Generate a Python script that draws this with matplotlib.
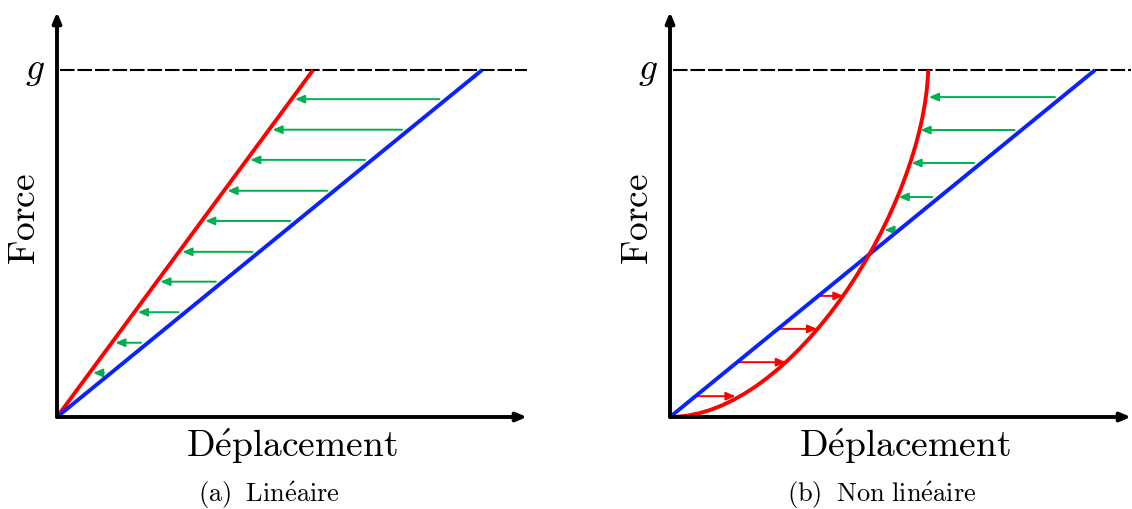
import numpy as np
import matplotlib
matplotlib.use('Agg')
import matplotlib.pyplot as plt
from matplotlib.path import Path
from matplotlib.patches import PathPatch

plt.rcParams['mathtext.fontset'] = 'cm'

####################################################
# Data (force normalised so that g = 1)
####################################################
g = 1.0
k_secant = 1.0 / 1.225          # blue line, both panels
k_lin = 1.0 / 0.738             # red line, panel (a)

# panel (a) arrow levels
levels_a = [0.127, 0.214, 0.302, 0.390, 0.476, 0.565, 0.652, 0.741, 0.828, 0.916]

# panel (b) non linear curve (cubic bezier control points)
curve_b = [(0.0, 0.0), (0.355, 0.0), (0.732, 0.605), (0.744, 1.0)]
# green arrows (above crossing) : level, displacement of the curve
levels_b_green = [0.539, 0.634, 0.732, 0.827, 0.922]
curve_x_green = [0.618, 0.659, 0.696, 0.722, 0.746]
# red arrows (below crossing)
levels_b_red = [0.060, 0.158, 0.254, 0.349]
curve_x_red = [0.189, 0.334, 0.424, 0.500]

RED = '#ff0000'
BLUE = '#0a22ff'
GREEN = '#00b050'

W, H = 1132, 509
PX = 347.0   # pixels per unit of force

fig = plt.figure(figsize=(W / 100, H / 100), dpi=100)


def make_axes(x0, xend):
    ax = fig.add_axes([x0 / W, (H - 417) / H, (xend - x0) / W, 405 / H])
    ax.set_xlim(0, (xend - x0) / PX)
    ax.set_ylim(0, 405 / PX)
    ax.axis('off')
    xmax = (xend - x0) / PX
    ymax = 405 / PX
    # axes with arrows
    for tip in [(xmax, 0), (0, ymax)]:
        ax.annotate('', xy=tip, xytext=(0, 0),
                    arrowprops=dict(arrowstyle='-|>,head_length=0.6,head_width=0.25',
                                    lw=2.8, color='k', mutation_scale=10,
                                    shrinkA=0, shrinkB=0), zorder=6)
    # g level
    ax.plot([0.009, xmax], [g, g], color='k', lw=1.5, dashes=(7, 1.4), zorder=1)
    ax.text(-0.063, g, r'$g$', fontsize=27, ha='center', va='center')
    ax.text(-0.092, 0.57, r'$\mathrm{Force}$', fontsize=27, rotation=90,
            ha='center', va='center')
    ax.text(0.676, -0.115, r'$\mathrm{D\acute{e}placement}$', fontsize=27,
            ha='center', va='baseline')
    return ax


def harrow(ax, x_from, x_to, y, color):
    ax.annotate('', xy=(x_to, y), xytext=(x_from, y),
                arrowprops=dict(arrowstyle='-|>,head_length=0.7,head_width=0.3',
                                lw=1.4, color=color, mutation_scale=8,
                                shrinkA=0, shrinkB=0), zorder=2)


#####################################################
# (a) Lineaire
#####################################################
ax1 = make_axes(57, 527)
ax1.plot([0, g / k_lin], [0, g], color=RED, lw=2.8, solid_capstyle='butt', zorder=4)
ax1.plot([0, g / k_secant], [0, g], color=BLUE, lw=2.8, solid_capstyle='butt', zorder=4)
for y in levels_a:
    harrow(ax1, y / k_secant - 0.02, y / k_lin + 0.01, y, GREEN)

#####################################################
# (b) Non lineaire
#####################################################
ax2 = make_axes(670, 1131)
ax2.plot([0, g / k_secant], [0, g], color=BLUE, lw=2.8, solid_capstyle='butt', zorder=4)
path = Path(curve_b, [Path.MOVETO, Path.CURVE4, Path.CURVE4, Path.CURVE4])
ax2.add_patch(PathPatch(path, fc='none', ec=RED, lw=2.8, capstyle='butt', zorder=5))
for y, xc in zip(levels_b_green, curve_x_green):
    harrow(ax2, y / k_secant - 0.02, xc, y, GREEN)
for y, xc in zip(levels_b_red, curve_x_red):
    harrow(ax2, y / k_secant + 0.005, xc, y, RED)

fig.text(269 / W, 1 - 502 / H, r'$\mathrm{(a)\;\ Lin\acute{e}aire}$', fontsize=19,
         ha='center', va='baseline')
fig.text(882 / W, 1 - 502 / H, r'$\mathrm{(b)\;\ Non\ lin\acute{e}aire}$', fontsize=19,
         ha='center', va='baseline')

fig.savefig('out.png', dpi=100)
